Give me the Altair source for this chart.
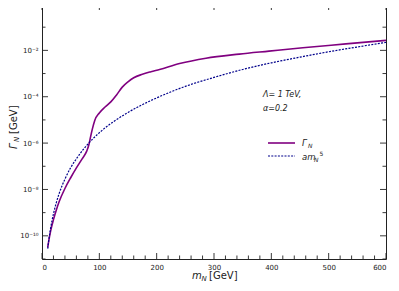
import altair as alt
import pandas as pd

# ---- data ----
m_gamma = [10, 12, 15, 20, 25, 30, 40, 50, 60, 70, 78, 82, 85, 88, 92, 100, 110, 120,
           130, 140, 150, 160, 175, 190, 205, 240, 286, 344, 396, 455, 530, 600]
gamma_N = [3.2e-11, 6.5e-11, 1.6e-10, 5.0e-10, 1.3e-9, 3.0e-9, 1.1e-8, 3.2e-8, 8.5e-8,
           2.1e-7, 4.5e-7, 8.9e-7, 2.0e-6, 4.2e-6, 9.5e-6, 2.0e-5, 3.6e-5, 6.0e-5,
           1.2e-4, 2.6e-4, 4.4e-4, 6.6e-4, 9.3e-4, 1.2e-3, 1.5e-3, 2.7e-3, 4.6e-3,
           6.9e-3, 9.3e-3, 1.3e-2, 1.9e-2, 2.7e-2]

m_am5 = [10, 12, 15, 20, 25, 30, 35, 40, 50, 60, 70, 80, 100, 125, 150, 200, 250, 300,
         350, 400, 450, 500, 550, 600]
am5 = [2.8e-11, 7.0e-11, 2.1e-10, 8.9e-10, 2.7e-9, 6.8e-9, 1.45e-8, 2.8e-8, 8.7e-8,
       2.1e-7, 4.6e-7, 9.1e-7, 2.8e-6, 8.5e-6, 2.1e-5, 8.9e-5, 2.8e-4, 6.8e-4, 1.5e-3,
       2.9e-3, 5.1e-3, 8.7e-3, 1.4e-2, 2.2e-2]

x_major = [0, 100, 200, 300, 400, 500, 600]
x_minor = [20, 40, 60, 80, 120, 140, 160, 180, 220, 240, 260, 280, 320, 340, 360, 380,
           420, 440, 460, 480, 520, 540, 560, 580]
y_major = [1e0, 1e-2, 1e-4, 1e-6, 1e-8, 1e-10]
y_major_labels = ["10⁰", "10⁻²", "10⁻⁴", "10⁻⁶", "10⁻⁸", "10⁻¹⁰"]
y_minor = [1e-1, 1e-3, 1e-5, 1e-7, 1e-9, 1e-11]

W, H = 344, 255
FONT = "DejaVu Sans"
INK = "#222222"

xs = alt.Scale(domain=[0, 600], nice=False, zero=False)
ys = alt.Scale(type="log", domain=[1e-11, 1], nice=False)

ylabel_expr = " : ".join(
    f"datum.value > {v * 0.5} ? '{lab}'" for v, lab in zip(y_major, y_major_labels)
) + " : ''"

xaxis = alt.Axis(values=x_major, ticks=False, domain=False, grid=False, title="",
                 labelFont=FONT, labelFontSize=7, labelColor=INK, labelPadding=4)
yaxis = alt.Axis(values=y_major, ticks=False, domain=False, grid=False, title="",
                 labelFont=FONT, labelFontSize=7, labelColor=INK, labelPadding=4,
                 labelExpr=ylabel_expr)

X = alt.X("m:Q", scale=xs, axis=xaxis)
Y = alt.Y("g:Q", scale=ys, axis=yaxis)

df_g = pd.DataFrame({"m": m_gamma, "g": gamma_N})
df_a = pd.DataFrame({"m": m_am5, "g": am5})

line_g = alt.Chart(df_g).mark_line(color="#800080", strokeWidth=1.6,
                                   interpolate="monotone", clip=True).encode(x=X, y=Y)
line_a = alt.Chart(df_a).mark_line(color="#00008b", strokeWidth=1.2, strokeDash=[2, 1.3],
                                   interpolate="monotone", clip=True).encode(x=X, y=Y)

def xticks(vals, ln):
    d = pd.DataFrame({"m": vals})
    bot = alt.Chart(d).mark_rule(color=INK, strokeWidth=0.9).encode(
        x=X, y=alt.value(H), y2=alt.value(H - ln))
    top = alt.Chart(d).mark_rule(color=INK, strokeWidth=0.9).encode(
        x=X, y=alt.value(0), y2=alt.value(ln))
    return [bot, top]

def yticks(vals, ln):
    d = pd.DataFrame({"g": vals})
    lft = alt.Chart(d).mark_rule(color=INK, strokeWidth=0.9).encode(
        y=Y, x=alt.value(0), x2=alt.value(ln))
    rgt = alt.Chart(d).mark_rule(color=INK, strokeWidth=0.9).encode(
        y=Y, x=alt.value(W), x2=alt.value(W - ln))
    return [lft, rgt]

ticks = xticks(x_major, 6) + xticks(x_minor, 3.5) + yticks(y_major, 6) + yticks(y_minor, 3.5)

def txt(s, x, y, size, italic=False, angle=0, baseline="alphabetic", align="left"):
    kw = dict(text=s, font=FONT, fontSize=size, color=INK, align=align, baseline=baseline)
    if italic:
        kw["fontStyle"] = "italic"
    if angle:
        kw["angle"] = angle
    return alt.Chart(pd.DataFrame({"k": [0]})).mark_text(**kw).encode(
        x=alt.value(x), y=alt.value(y))

labels = [
    # x title
    txt("m", 150, 275, 10, italic=True),
    txt("N", 159.5, 276.5, 7, italic=True),
    txt("[GeV]", 167, 275, 10),
    # y title (rotated)
    txt("Γ", -25, 145, 10, italic=True, angle=270),
    txt("N", -23, 138, 7, italic=True, angle=270),
    txt("[GeV]", -25, 130, 10, angle=270),
    # annotation
    txt("Λ= 1 TeV,", 221, 93, 8, italic=True),
    txt("α=0.2", 221, 107, 8, italic=True),
    # legend text
    txt("Γ", 260, 142, 8.5, italic=True),
    txt("N", 266, 144, 6, italic=True),
    txt("am", 260, 156, 8.5, italic=True),
    txt("N", 272, 158, 6, italic=True),
    txt("5", 277.5, 152, 6),
]

legend_lines = [
    alt.Chart(pd.DataFrame({"k": [0]})).mark_rule(color="#800080", strokeWidth=1.6).encode(
        x=alt.value(226), x2=alt.value(253), y=alt.value(139)),
    alt.Chart(pd.DataFrame({"k": [0]})).mark_rule(color="#00008b", strokeWidth=1.2,
                                                  strokeDash=[2, 1.3]).encode(
        x=alt.value(226), x2=alt.value(253), y=alt.value(152)),
]

chart = alt.layer(line_g, line_a, *ticks, *legend_lines, *labels).properties(
    width=W, height=H,
    autosize=alt.AutoSizeParams(type="none"),
    padding={"left": 34, "top": -4, "right": 5, "bottom": 24},
).configure_view(stroke=INK, strokeWidth=1)

chart.save("out.html", embed_options={"renderer": "svg", "actions": False})
